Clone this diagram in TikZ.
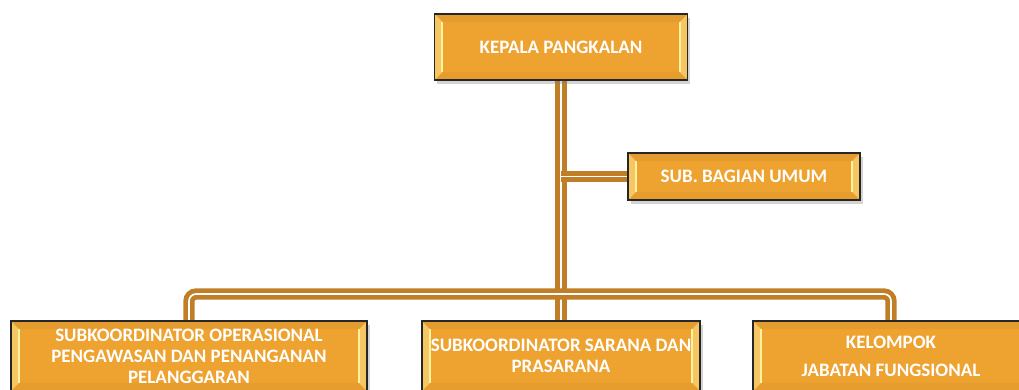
\documentclass[tikz,border=0pt]{standalone}
\usepackage{fontspec}
\setmainfont{Carlito}
\usetikzlibrary{shadows,backgrounds}

\definecolor{boxorange}{RGB}{238,162,48}
\definecolor{bevellight}{RGB}{255,242,160}
\definecolor{linkbrown}{RGB}{192,126,38}

\tikzset{
  unitbox/.style={draw=black!85,line width=0.9pt,fill=boxorange,
    text=white,font=\fontsize{13.5}{15}\selectfont\bfseries,align=center,
    inner sep=2pt,
    drop shadow={opacity=0.35,shadow xshift=2pt,shadow yshift=-2.5pt},
    path picture={
      % side bevels
      \fill[boxorange!55!bevellight]
        (path picture bounding box.north west)
        -- ([shift={(6pt,-6pt)}]path picture bounding box.north west)
        -- ([shift={(6pt,6pt)}]path picture bounding box.south west)
        -- (path picture bounding box.south west) -- cycle;
      \fill[boxorange!55!bevellight]
        (path picture bounding box.north east)
        -- ([shift={(-6pt,-6pt)}]path picture bounding box.north east)
        -- ([shift={(-6pt,6pt)}]path picture bounding box.south east)
        -- (path picture bounding box.south east) -- cycle;
      \draw[bevellight,line width=1.6pt]
        ([shift={(5.5pt,-6pt)}]path picture bounding box.north west)
        -- ([shift={(5.5pt,6pt)}]path picture bounding box.south west);
      \draw[bevellight,line width=1.6pt]
        ([shift={(-5.5pt,-6pt)}]path picture bounding box.north east)
        -- ([shift={(-5.5pt,6pt)}]path picture bounding box.south east);
      % top and bottom bevels
      \fill[boxorange!90!black,opacity=0.35]
        (path picture bounding box.north west)
        -- ([shift={(6pt,-6pt)}]path picture bounding box.north west)
        -- ([shift={(-6pt,-6pt)}]path picture bounding box.north east)
        -- (path picture bounding box.north east) -- cycle;
      \fill[boxorange!90!black,opacity=0.25]
        (path picture bounding box.south west)
        -- ([shift={(6pt,6pt)}]path picture bounding box.south west)
        -- ([shift={(-6pt,6pt)}]path picture bounding box.south east)
        -- (path picture bounding box.south east) -- cycle;
    }},
  link/.style={draw=linkbrown,double=white,line width=3.4pt,double distance=1.2pt}
}

\begin{document}
\begin{tikzpicture}[x=0.025cm,y=-0.025cm]
  \useasboundingbox (0,0) rectangle (1019,389);
  \clip (0,0) rectangle (1019,389);

  \node[unitbox,minimum width=253*0.025cm,minimum height=66*0.025cm]
    (kepala) at (561,47) {KEPALA PANGKALAN};
  \node[unitbox,minimum width=232*0.025cm,minimum height=47*0.025cm]
    (umum) at (744,176.5) {SUB. BAGIAN UMUM};
  \node[unitbox,minimum width=356*0.025cm,minimum height=70*0.025cm]
    (operasional) at (189,356) {SUBKOORDINATOR OPERASIONAL\\PENGAWASAN DAN PENANGANAN\\PELANGGARAN};
  \node[unitbox,minimum width=278*0.025cm,minimum height=70*0.025cm]
    (sarana) at (561,356) {SUBKOORDINATOR SARANA DAN\\PRASARANA};
  \node[unitbox,minimum width=276*0.025cm,minimum height=70*0.025cm]
    (kelompok) at (891,356) {KELOMPOK\\[5pt]JABATAN FUNGSIONAL};

  \coordinate (bus) at (561,294);

  \begin{scope}[on background layer]
    \draw[link] (kepala.south) -- (sarana.north);
    \draw[link] (umum.west) -- (umum.west -| kepala.south);
    \draw[link,rounded corners=5pt] (operasional.north) |- (bus) -| (kelompok.north);
  \end{scope}
\end{tikzpicture}
\end{document}
